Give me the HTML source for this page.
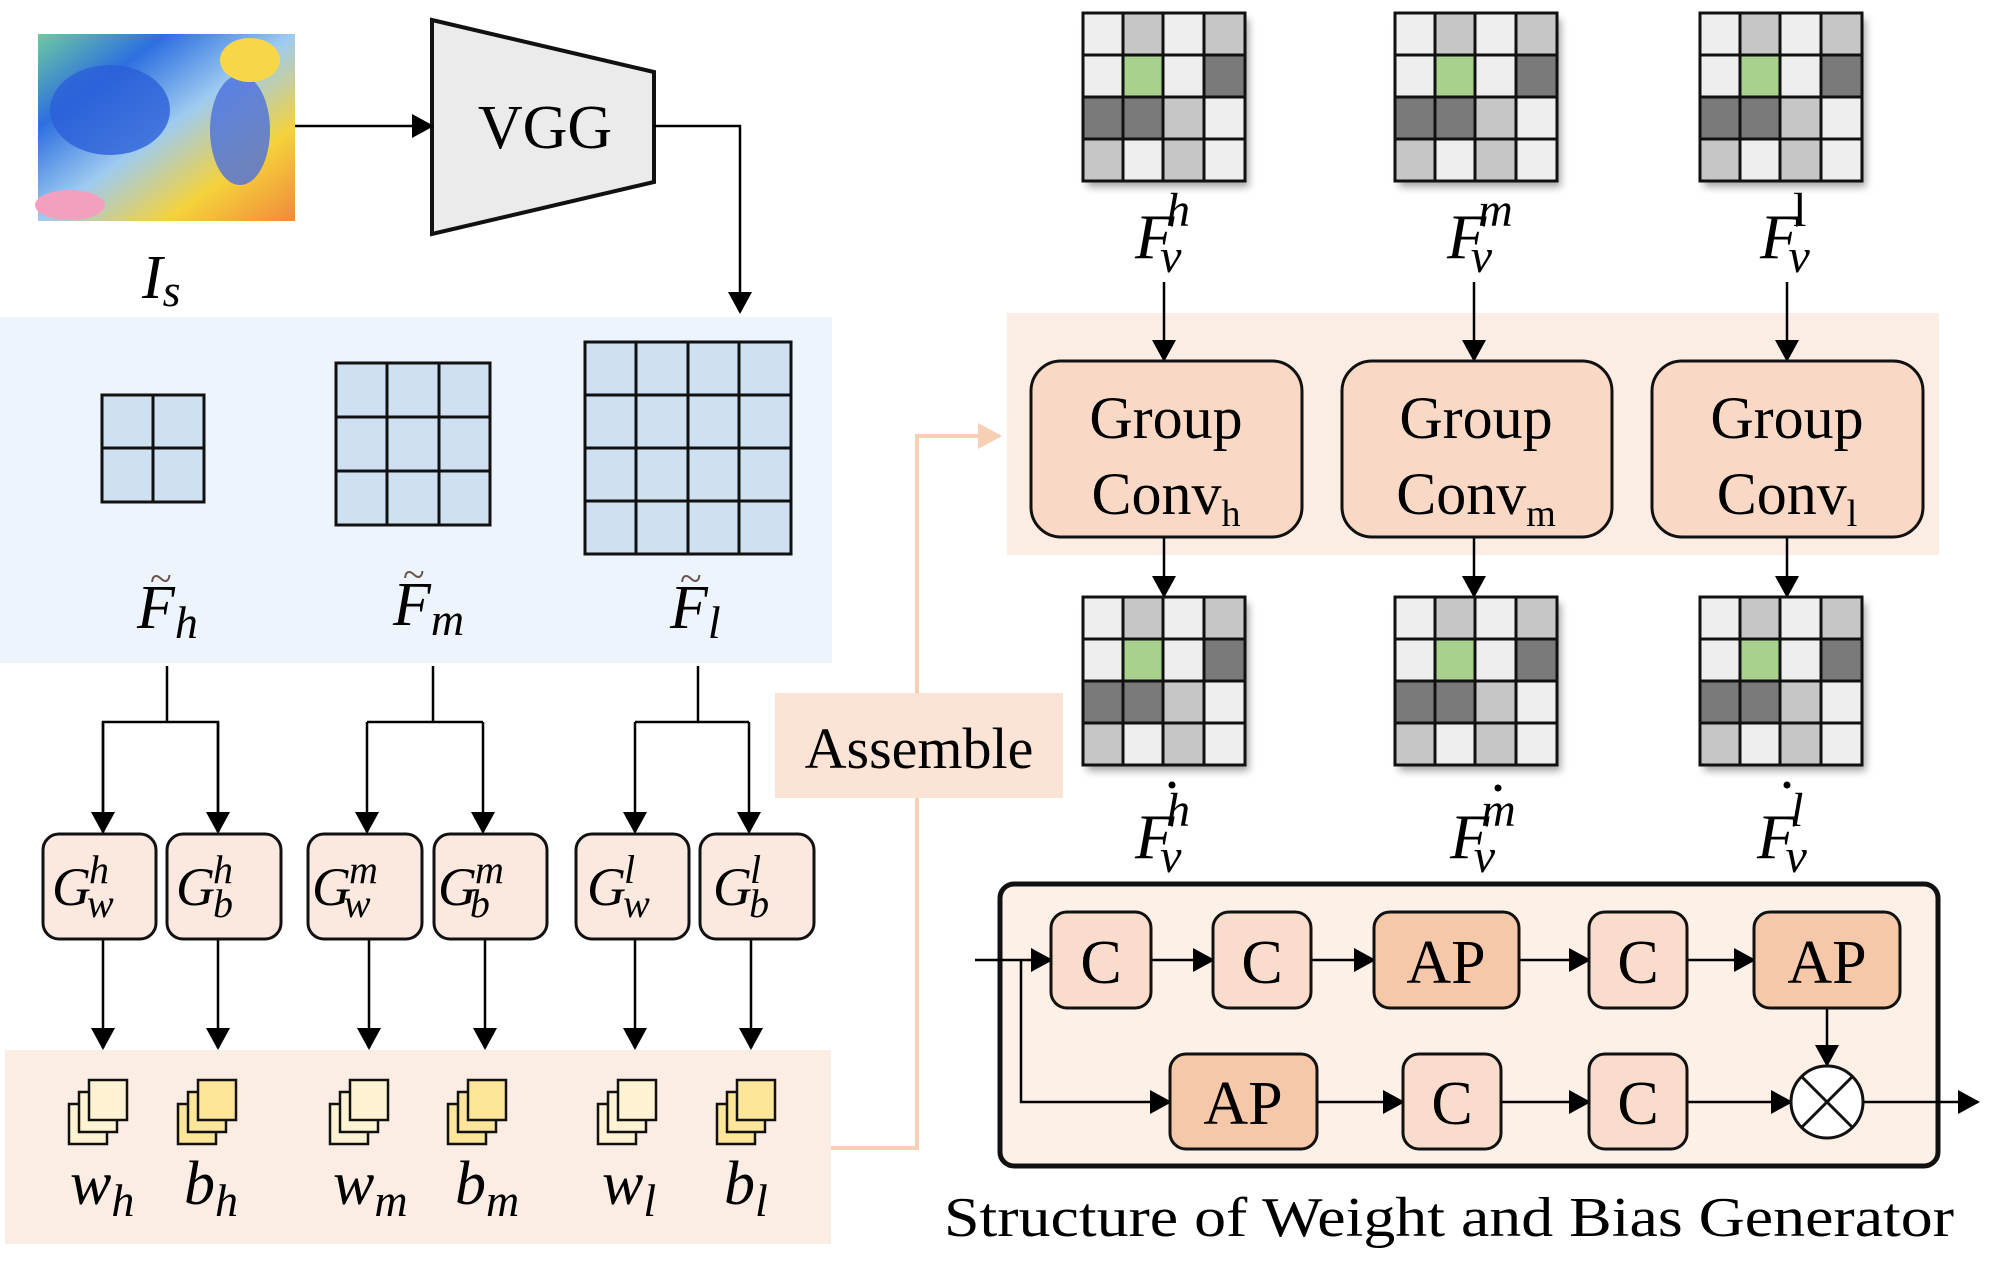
<!DOCTYPE html>
<html><head><meta charset="utf-8"><style>
html,body{margin:0;padding:0;background:#fff}
svg{display:block}
text{font-family:"Liberation Serif",serif}
.m{font-style:italic}
</style></head><body>
<svg width="1998" height="1287" viewBox="0 0 1998 1287" xmlns="http://www.w3.org/2000/svg">
<defs>
<marker id="ah" markerWidth="10" markerHeight="10" refX="9" refY="5" orient="auto" markerUnits="userSpaceOnUse" viewBox="0 0 10 10"><path d="M0,0 L10,5 L0,10 z" fill="#000"/></marker>
<marker id="ab" markerWidth="22" markerHeight="24" refX="20" refY="12" orient="auto" markerUnits="userSpaceOnUse" viewBox="0 0 22 24"><path d="M0,0 L22,12 L0,24 z" fill="#000"/></marker>
<marker id="ao" markerWidth="24" markerHeight="26" refX="22" refY="13" orient="auto" markerUnits="userSpaceOnUse" viewBox="0 0 24 26"><path d="M0,0 L24,13 L0,26 z" fill="#f6cfb5"/></marker>
<linearGradient id="p1" x1="0" y1="0" x2="1" y2="1">
<stop offset="0" stop-color="#6fc9a0"/><stop offset="0.25" stop-color="#2d6fe0"/><stop offset="0.5" stop-color="#9ecbf0"/><stop offset="0.75" stop-color="#f5d23a"/><stop offset="1" stop-color="#f08a3a"/></linearGradient>
<filter id="sh" x="-10%" y="-10%" width="130%" height="130%"><feDropShadow dx="4" dy="6" stdDeviation="4" flood-color="#000" flood-opacity="0.35"/></filter>
<g id="grid">
<rect x="0" y="0" width="162" height="168" fill="#eee" filter="url(#sh)"/>
<rect x="40" y="0" width="40" height="42" fill="#c6c6c6"/><rect x="121" y="0" width="41" height="42" fill="#c6c6c6"/>
<rect x="40" y="42" width="40" height="42" fill="#a8d18d"/><rect x="121" y="42" width="41" height="42" fill="#7a7a7a"/>
<rect x="0" y="84" width="80" height="42" fill="#7a7a7a"/><rect x="80" y="84" width="41" height="42" fill="#c6c6c6"/>
<rect x="0" y="126" width="40" height="42" fill="#c6c6c6"/><rect x="80" y="126" width="41" height="42" fill="#c6c6c6"/>
<g stroke="#111" stroke-width="3" fill="none">
<rect x="0" y="0" width="162" height="168"/>
<line x1="40" y1="0" x2="40" y2="168"/><line x1="80" y1="0" x2="80" y2="168"/><line x1="121" y1="0" x2="121" y2="168"/>
<line x1="0" y1="42" x2="162" y2="42"/><line x1="0" y1="84" x2="162" y2="84"/><line x1="0" y1="126" x2="162" y2="126"/>
</g></g>
<g id="docw" stroke="#111" stroke-width="2.5" fill="#fff3d3">
<rect x="0" y="24" width="38" height="40"/><rect x="10" y="12" width="38" height="40"/><rect x="20" y="0" width="38" height="40"/></g>
<g id="docb" stroke="#111" stroke-width="2.5" fill="#fde59a">
<rect x="0" y="24" width="38" height="40"/><rect x="10" y="12" width="38" height="40"/><rect x="20" y="0" width="38" height="40"/></g>
</defs>

<!-- painting -->
<rect x="38" y="34" width="257" height="187" fill="url(#p1)"/>
<ellipse cx="110" cy="110" rx="60" ry="45" fill="#2a5fd8" opacity="0.8"/>
<ellipse cx="240" cy="130" rx="30" ry="55" fill="#4a6fe0" opacity="0.8"/>
<ellipse cx="70" cy="205" rx="35" ry="15" fill="#f3a0c0"/>
<ellipse cx="250" cy="60" rx="30" ry="22" fill="#f7d64a"/>
<text x="142" y="298" class="m" font-size="62">I<tspan font-size="46" dy="8">s</tspan></text>

<!-- VGG -->
<polygon points="432,20 654,72 654,182 432,234" fill="#ebebeb" stroke="#111" stroke-width="4"/>
<text x="545" y="148" font-size="62" text-anchor="middle">VGG</text>
<line x1="295" y1="126" x2="432" y2="126" stroke="#000" stroke-width="2.5" marker-end="url(#ab)"/>
<polyline points="654,126 740,126 740,312" fill="none" stroke="#000" stroke-width="2.5" marker-end="url(#ab)"/>

<!-- blue panel -->
<rect x="0" y="317" width="832" height="346" fill="#eef4fb"/>
<g fill="#cfe0f1" stroke="#111" stroke-width="3">
<rect x="102" y="395" width="102" height="107"/>
<line x1="153" y1="395" x2="153" y2="502"/><line x1="102" y1="448" x2="204" y2="448"/>
<rect x="336" y="363" width="154" height="162"/>
<line x1="387" y1="363" x2="387" y2="525"/><line x1="439" y1="363" x2="439" y2="525"/>
<line x1="336" y1="417" x2="490" y2="417"/><line x1="336" y1="471" x2="490" y2="471"/>
<rect x="585" y="342" width="206" height="212"/>
<line x1="636" y1="342" x2="636" y2="554"/><line x1="688" y1="342" x2="688" y2="554"/><line x1="739" y1="342" x2="739" y2="554"/>
<line x1="585" y1="395" x2="791" y2="395"/><line x1="585" y1="448" x2="791" y2="448"/><line x1="585" y1="501" x2="791" y2="501"/>
</g>
<g class="m" font-size="62">
<text x="137" y="628">F<tspan font-size="46" dy="10">h</tspan></text>
<text x="393" y="625">F<tspan font-size="46" dy="10">m</tspan></text>
<text x="670" y="628">F<tspan font-size="46" dy="10">l</tspan></text>
</g>
<g font-size="40" fill="#6a5550"><text x="150" y="592">~</text><text x="403" y="588">~</text><text x="680" y="592">~</text></g>

<!-- branches -->
<g stroke="#000" stroke-width="2.5" fill="none">
<line x1="167" y1="666" x2="167" y2="722"/><polyline points="103,832 103,722 218,722 218,832" marker-start="url(#ab)"/>
<line x1="433" y1="666" x2="433" y2="722"/><polyline points="367,722 483,722"/>
<line x1="698" y1="666" x2="698" y2="722"/><polyline points="635,722 749,722"/>
</g>
<g stroke="#000" stroke-width="2.5" marker-end="url(#ab)">
<line x1="103" y1="722" x2="103" y2="832"/><line x1="218" y1="722" x2="218" y2="832"/>
<line x1="367" y1="722" x2="367" y2="832"/><line x1="483" y1="722" x2="483" y2="832"/>
<line x1="635" y1="722" x2="635" y2="832"/><line x1="749" y1="722" x2="749" y2="832"/>
<line x1="103" y1="940" x2="103" y2="1048"/><line x1="218" y1="940" x2="218" y2="1048"/>
<line x1="369" y1="940" x2="369" y2="1048"/><line x1="485" y1="940" x2="485" y2="1048"/>
<line x1="635" y1="940" x2="635" y2="1048"/><line x1="751" y1="940" x2="751" y2="1048"/>
</g>
<!-- G boxes -->
<g fill="#fbe9df" stroke="#111" stroke-width="3">
<rect x="43" y="834" width="113" height="105" rx="16"/><rect x="167" y="834" width="114" height="105" rx="16"/>
<rect x="308" y="834" width="114" height="105" rx="16"/><rect x="434" y="834" width="113" height="105" rx="16"/>
<rect x="576" y="834" width="113" height="105" rx="16"/><rect x="700" y="834" width="114" height="105" rx="16"/>
</g>
<g class="m" font-size="54">
<text x="52" y="905">G<tspan font-size="40" dx="-2" dy="-22">h</tspan><tspan font-size="40" dx="-22" dy="34">w</tspan></text>
<text x="176" y="905">G<tspan font-size="40" dx="-2" dy="-22">h</tspan><tspan font-size="40" dx="-20" dy="34">b</tspan></text>
<text x="312" y="905">G<tspan font-size="40" dx="-2" dy="-22">m</tspan><tspan font-size="40" dx="-34" dy="34">w</tspan></text>
<text x="438" y="905">G<tspan font-size="40" dx="-2" dy="-22">m</tspan><tspan font-size="40" dx="-34" dy="34">b</tspan></text>
<text x="587" y="905">G<tspan font-size="40" dx="-2" dy="-22">l</tspan><tspan font-size="40" dx="-12" dy="34">w</tspan></text>
<text x="713" y="905">G<tspan font-size="40" dx="-2" dy="-22">l</tspan><tspan font-size="40" dx="-12" dy="34">b</tspan></text>
</g>

<!-- bottom pink panel -->
<rect x="5" y="1050" width="826" height="194" fill="#fcede4"/>
<use href="#docw" x="69" y="1080"/><use href="#docb" x="178" y="1080"/>
<use href="#docw" x="330" y="1080"/><use href="#docb" x="448" y="1080"/>
<use href="#docw" x="598" y="1080"/><use href="#docb" x="717" y="1080"/>
<g class="m" font-size="62">
<text x="70" y="1204">w<tspan font-size="46" dy="12">h</tspan></text>
<text x="184" y="1204">b<tspan font-size="46" dy="12">h</tspan></text>
<text x="333" y="1204">w<tspan font-size="46" dy="12">m</tspan></text>
<text x="455" y="1204">b<tspan font-size="46" dy="12">m</tspan></text>
<text x="602" y="1204">w<tspan font-size="46" dy="12">l</tspan></text>
<text x="724" y="1204">b<tspan font-size="46" dy="12">l</tspan></text>
</g>

<!-- assemble -->
<polyline points="831,1148 917,1148 917,436 1000,436" fill="none" stroke="#f6cfb5" stroke-width="4" marker-end="url(#ao)"/>
<rect x="775" y="693" width="288" height="105" fill="#fbe4d6"/>
<text x="919" y="768" font-size="58" text-anchor="middle">Assemble</text>

<!-- right top grids -->
<use href="#grid" x="1083" y="13"/><use href="#grid" x="1395" y="13"/><use href="#grid" x="1700" y="13"/>
<g class="m" font-size="64">
<text x="1135" y="258">F<tspan font-size="48" dx="-8" dy="-32">h</tspan><tspan font-size="48" dx="-30" dy="46">v</tspan></text>
<text x="1447" y="258">F<tspan font-size="48" dx="-8" dy="-32">m</tspan><tspan font-size="48" dx="-42" dy="46">v</tspan></text>
<text x="1760" y="258">F<tspan font-size="48" dx="-6" dy="-32" font-style="normal">l</tspan><tspan font-size="48" dx="-18" dy="46">v</tspan></text>
</g>
<rect x="1007" y="313" width="932" height="242" fill="#fcede4"/>
<g stroke="#000" stroke-width="2.5" marker-end="url(#ab)">
<line x1="1164" y1="282" x2="1164" y2="360"/><line x1="1474" y1="282" x2="1474" y2="360"/><line x1="1787" y1="282" x2="1787" y2="360"/>
<line x1="1164" y1="537" x2="1164" y2="596"/><line x1="1474" y1="537" x2="1474" y2="596"/><line x1="1787" y1="537" x2="1787" y2="596"/>
</g>
<g fill="#f9d9c6" stroke="#111" stroke-width="3">
<rect x="1031" y="361" width="271" height="176" rx="30"/>
<rect x="1342" y="361" width="270" height="176" rx="30"/>
<rect x="1652" y="361" width="271" height="176" rx="30"/>
</g>
<g font-size="60" text-anchor="middle">
<text x="1166" y="438">Group</text><text x="1476" y="438">Group</text><text x="1787" y="438">Group</text>
<text x="1166" y="514">Conv<tspan font-size="38" dy="12">h</tspan></text>
<text x="1476" y="514">Conv<tspan font-size="38" dy="12">m</tspan></text>
<text x="1787" y="514">Conv<tspan font-size="38" dy="12">l</tspan></text>
</g>
<use href="#grid" x="1083" y="597"/><use href="#grid" x="1395" y="597"/><use href="#grid" x="1700" y="597"/>
<g class="m" font-size="64">
<text x="1135" y="858">F<tspan font-size="48" dx="-8" dy="-32">h</tspan><tspan font-size="48" dx="-30" dy="46">v</tspan></text>
<text x="1450" y="858">F<tspan font-size="48" dx="-8" dy="-32">m</tspan><tspan font-size="48" dx="-42" dy="46">v</tspan></text>
<text x="1757" y="858">F<tspan font-size="48" dx="-6" dy="-32">l</tspan><tspan font-size="48" dx="-18" dy="46">v</tspan></text>
</g>
<g fill="#000"><circle cx="1172" cy="785" r="3.5"/><circle cx="1498" cy="788" r="3.5"/><circle cx="1787" cy="785" r="3.5"/></g>

<!-- structure -->
<rect x="1000" y="884" width="938" height="282" rx="14" fill="#fdf0e7" stroke="#111" stroke-width="5"/>
<g stroke="#000" stroke-width="2.5" fill="none">
<line x1="975" y1="960" x2="1051" y2="960" marker-end="url(#ab)"/>
<polyline points="1021,960 1021,1102 1170,1102" marker-end="url(#ab)"/>
<line x1="1151" y1="960" x2="1213" y2="960" marker-end="url(#ab)"/>
<line x1="1311" y1="960" x2="1374" y2="960" marker-end="url(#ab)"/>
<line x1="1519" y1="960" x2="1589" y2="960" marker-end="url(#ab)"/>
<line x1="1687" y1="960" x2="1754" y2="960" marker-end="url(#ab)"/>
<line x1="1827" y1="1008" x2="1827" y2="1065" marker-end="url(#ab)"/>
<line x1="1317" y1="1102" x2="1403" y2="1102" marker-end="url(#ab)"/>
<line x1="1501" y1="1102" x2="1589" y2="1102" marker-end="url(#ab)"/>
<line x1="1687" y1="1102" x2="1791" y2="1102" marker-end="url(#ab)"/>
<line x1="1863" y1="1102" x2="1978" y2="1102" marker-end="url(#ab)"/>
</g>
<g stroke="#111" stroke-width="3">
<rect x="1051" y="912" width="100" height="96" rx="16" fill="#f9dccb"/>
<rect x="1213" y="912" width="98" height="96" rx="16" fill="#f9dccb"/>
<rect x="1374" y="912" width="145" height="96" rx="16" fill="#f5c8aa"/>
<rect x="1589" y="912" width="98" height="96" rx="16" fill="#f9dccb"/>
<rect x="1754" y="912" width="146" height="96" rx="16" fill="#f5c8aa"/>
<rect x="1170" y="1054" width="147" height="95" rx="16" fill="#f5c8aa"/>
<rect x="1403" y="1054" width="98" height="95" rx="16" fill="#f9dccb"/>
<rect x="1589" y="1054" width="98" height="95" rx="16" fill="#f9dccb"/>
<circle cx="1827" cy="1102" r="36" fill="#fff"/>
<line x1="1802" y1="1077" x2="1852" y2="1127"/><line x1="1852" y1="1077" x2="1802" y2="1127"/>
</g>
<g font-size="62" text-anchor="middle">
<text x="1101" y="983">C</text><text x="1262" y="983">C</text><text x="1446" y="983">AP</text>
<text x="1638" y="983">C</text><text x="1827" y="983">AP</text>
<text x="1243" y="1124">AP</text><text x="1452" y="1124">C</text><text x="1638" y="1124">C</text>
</g>
<text x="944" y="1236" font-size="56" textLength="1010" lengthAdjust="spacingAndGlyphs">Structure of Weight and Bias Generator</text>
</svg>
</body></html>
